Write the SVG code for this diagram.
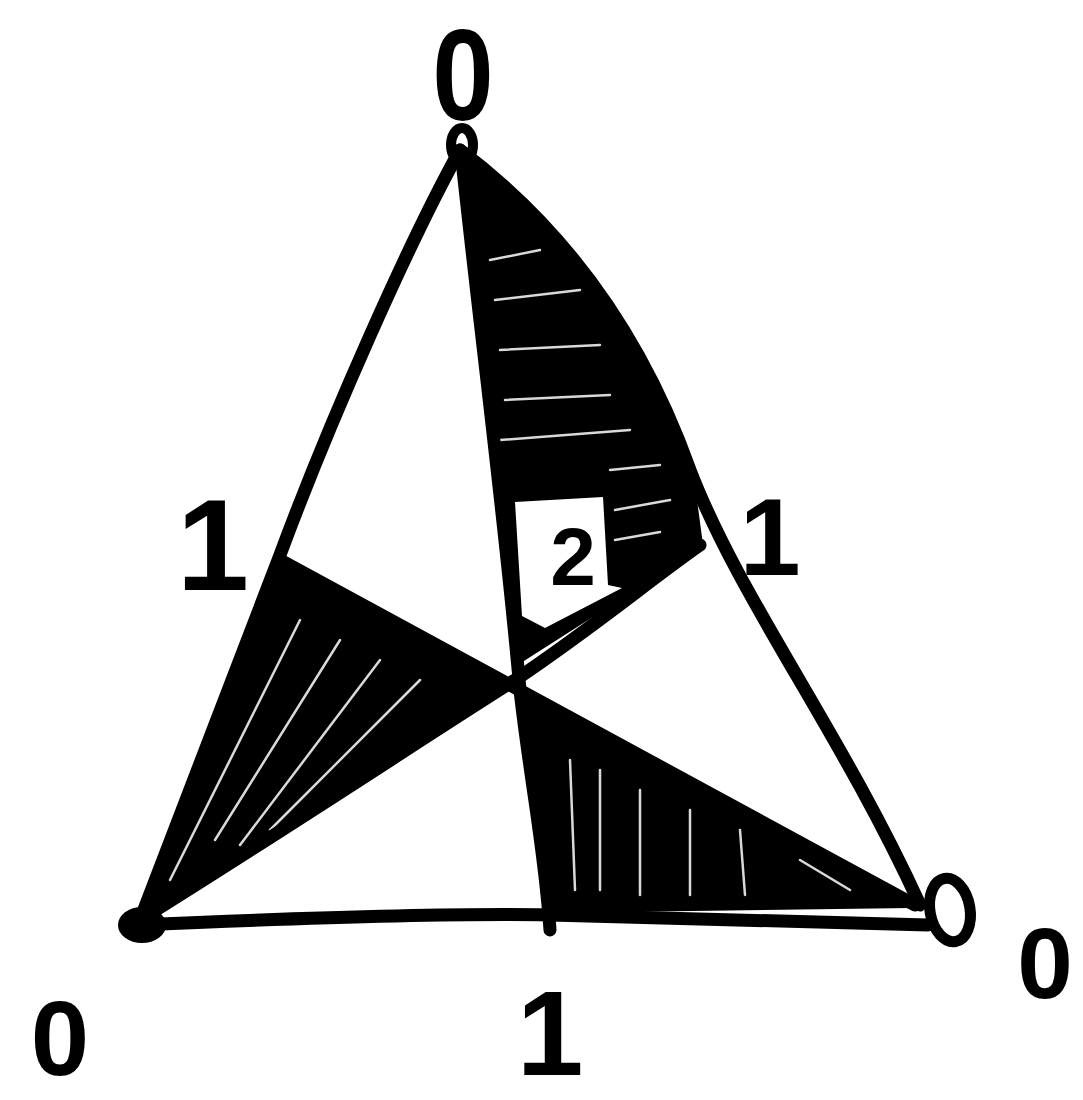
<svg xmlns="http://www.w3.org/2000/svg" width="1083" height="1100" viewBox="0 0 1083 1100">
<style>
.ln{fill:none;stroke:#000;stroke-width:13;stroke-linecap:round;stroke-linejoin:round}
.sh{fill:#000;stroke:#000;stroke-width:6;stroke-linejoin:round}
.st{fill:none;stroke:#fff;stroke-width:2.5;stroke-linecap:round;opacity:0.85}
.lb{font-family:"Liberation Sans",Arial,sans-serif;font-size:130px;font-weight:bold;fill:#000;text-anchor:middle}
</style>
<rect width="1083" height="1100" fill="#fff"/>
<g id="shading">
<path class="sh" d="M462,160 C560,235 640,340 690,470 L700,545 L520,660 C505,520 485,330 462,160 Z"/>
<path fill="#fff" d="M515,502 L603,497 L608,585 L622,588 L545,628 L522,616 Z"/>
<path class="st" d="M490,260 L540,250 M495,300 L580,290 M500,350 L600,345 M505,400 L610,395 M500,440 L630,430 M610,470 L660,465 M615,510 L670,500 M615,540 L660,532"/>
<path class="sh" d="M282,565 L510,682 L148,912 Z"/>
<path class="st" d="M200,820 L300,620 M215,840 L340,640 M240,845 L380,660 M270,830 L420,680 M170,880 L260,700"/>
<path class="sh" d="M528,692 L548,910 L912,905 Z"/>
<path class="st" d="M570,760 L575,890 M600,770 L600,890 M640,790 L640,895 M690,810 L690,895 M740,830 L745,895 M800,860 L850,890"/>
</g>
<g id="triangle">
<path class="ln" d="M460,150 C410,240 330,420 280,555 L138,925"/>
<path class="ln" d="M460,150 C560,225 640,330 690,470 C740,600 840,730 920,905"/>
<path class="ln" d="M135,925 C300,918 450,913 550,915 C700,918 830,922 928,925"/>
</g>
<g id="connectors">
<path class="ln" d="M462,160 C480,330 505,520 520,690 C530,780 545,850 550,930"/>
<path class="ln" d="M280,560 L915,905"/>
<path class="ln" d="M140,920 C300,820 420,740 515,680 C590,630 650,580 700,545"/>
</g>
<g id="vertices">
<ellipse cx="462" cy="145" rx="11" ry="17" fill="none" stroke="#000" stroke-width="10"/>
<ellipse cx="142" cy="925" rx="24" ry="18" fill="#000"/>
<ellipse cx="950" cy="910" rx="20" ry="32" fill="none" stroke="#000" stroke-width="11" transform="rotate(-10 950 910)"/>
</g>
<g id="labels">
<text class="lb" x="463" y="120" transform="translate(463 0) scale(0.85 1) translate(-463 0)">0</text>
<text class="lb" x="213" y="590">1</text>
<text class="lb" x="770" y="575" style="font-size:110px">1</text>
<text class="lb" x="60" y="1075" style="font-size:105px">0</text>
<text class="lb" x="550" y="1075" style="font-size:120px">1</text>
<text class="lb" x="1045" y="998" style="font-size:100px">0</text>
<text class="lb" x="573" y="585" style="font-size:82px">2</text>
</g>
</svg>
